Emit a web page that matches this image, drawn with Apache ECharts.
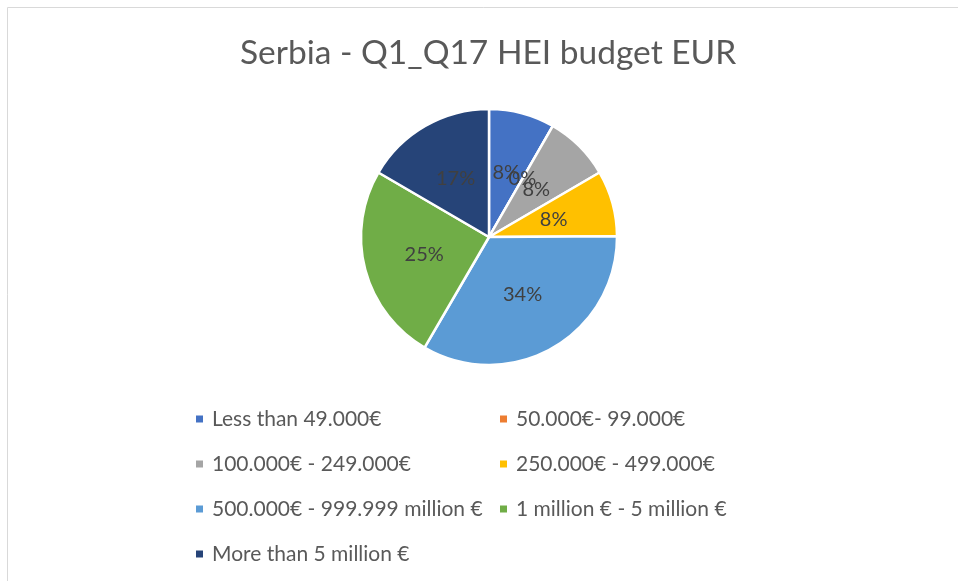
<!DOCTYPE html>
<html>
<head>
<meta charset="utf-8">
<script src="https://cdn.jsdelivr.net/npm/echarts@6/dist/echarts.min.js"></script>
<style>html,body{margin:0;padding:0;background:#fff;}#c{width:958px;height:581px;}</style>
</head>
<body>
<div id="c"></div>
<script>
var titleText = "Serbia - Q1_Q17 HEI budget EUR";
var categories = ["Less than 49.000€", "50.000€- 99.000€", "100.000€ - 249.000€", "250.000€ - 499.000€", "500.000€ - 999.999 million €", "1 million € - 5 million €", "More than 5 million €"];
var values = [8.3, 0, 8.3, 8.3, 33.5, 25, 16.6];
var colors = ["#4472C4", "#ED7D31", "#A5A5A5", "#FFC000", "#5B9BD5", "#70AD47", "#264478"];

var FONT = "Lato";
var chart = echarts.init(document.getElementById('c'), null, {renderer: 'canvas'});
var leftItems = categories.filter(function (c, i) { return i % 2 === 0; });
var rightItems = categories.filter(function (c, i) { return i % 2 === 1; });
function legend(items, left) {
  return {
    orient: 'vertical', left: left, top: 403, data: items,
    icon: 'rect', itemWidth: 9, itemHeight: 9, itemGap: 23,
    textStyle: {fontFamily: FONT, fontSize: 21, color: '#595959', lineHeight: 22, padding: [0, 0, 0, 3]},
    selectedMode: false
  };
}
chart.setOption({
  animation: false,
  color: colors,
  title: {
    text: titleText, left: 235, top: 31,
    textStyle: {fontFamily: FONT, fontSize: 33.5, fontWeight: 'normal', color: '#595959'}
  },
  legend: [legend(leftItems, 189), legend(rightItems, 493)],
  graphic: [{
    type: 'rect', shape: {x: 7.5, y: 7.5, width: 2000, height: 2000},
    style: {fill: 'none', stroke: '#d9d9d9', lineWidth: 1}, silent: true
  }],
  series: [{
    type: 'pie',
    center: [489, 237],
    radius: 128,
    startAngle: 90,
    clockwise: true,
    avoidLabelOverlap: false,
    minShowLabelAngle: 0,
    labelLayout: {hideOverlap: false},
    itemStyle: {borderColor: '#fff', borderWidth: 2.5},
    label: {
      show: true, position: 'inside',
      formatter: function (p) { return Math.round(p.percent) + '%'; },
      fontFamily: FONT, fontSize: 20, color: '#404040', padding: [4, 0, 0, 0]
    },
    labelLine: {show: false},
    emphasis: {disabled: true},
    data: categories.map(function (c, i) { return {name: c, value: values[i]}; })
  }]
});
</script>
</body>
</html>
